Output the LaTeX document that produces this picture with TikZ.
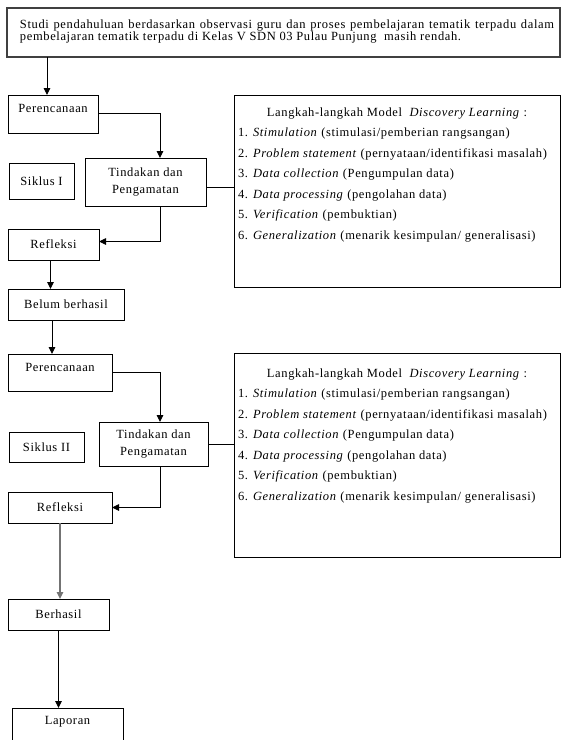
\documentclass[tikz,border=0pt]{standalone}
\usepackage{fontspec}
\setmainfont{Liberation Serif}[LetterSpace=5]
\usetikzlibrary{arrows.meta,positioning}
\newcommand{\dl}{\textit{Discovery Learning}}
% box with the steps of the model, text set from the top
\newcommand{\langkah}[2]{%
  \begin{minipage}[t][#1][t]{326pt}
  \fontsize{12.5}{20.5}\selectfont\parindent=0pt
  \centering\rule{0pt}{#2}Langkah-langkah Model\ \ \dl{} :\par
  \raggedright\leftskip=4pt
  1. \textit{Stimulation} (stimulasi/pemberian rangsangan)\par
  2. \textit{Problem statement} (pernyataan/identifikasi masalah)\par
  3. \textit{Data collection} (Pengumpulan data)\par
  4. \textit{Data processing} (pengolahan data)\par
  5. \textit{Verification} (pembuktian)\par
  6. \textit{Generalization} (menarik kesimpulan/ generalisasi)\par
  \end{minipage}}

\begin{document}
\begin{tikzpicture}[
  x=1pt, y=1pt,
  box/.style={draw, line width=0.9pt, align=center, inner xsep=2pt, inner ysep=0pt,
    outer sep=0pt, font=\fontsize{12.5}{16.5}\selectfont},
  arr/.style={-{Triangle[length=7pt, width=6.5pt]}, line width=0.9pt},
  link/.style={line width=0.9pt}
]
\useasboundingbox (0,0) rectangle (562,-740);

\node[box, anchor=north west, inner xsep=0pt, draw=black!75, line width=1.3pt] (studi) at (7,-8) {%
  \begin{minipage}[t][49pt][t]{553pt}
  \fontsize{12.5}{12}\selectfont
  \leftskip=13pt\parindent=0pt
  \rule{0pt}{20pt}\makebox[534pt][s]{Studi pendahuluan berdasarkan observasi guru dan proses pembelajaran tematik terpadu dalam}\\
  pembelajaran tematik terpadu di Kelas V SDN 03 Pulau Punjung\ \ masih rendah.
  \end{minipage}};

% siklus I
\node[box, below=38pt of studi.south west, anchor=north west, xshift=1pt,
  minimum width=90pt, text height=17.5pt, text depth=20.5pt] (renc1) {Perencanaan};
\node[box, below=30pt of renc1.south west, anchor=north west, xshift=1pt,
  minimum width=65pt, minimum height=36pt] (sik1) {Siklus I};
\node[box, below=25pt of renc1.south east, anchor=north west, xshift=-13pt,
  minimum width=121pt, minimum height=48pt] (tind1) {Tindakan dan\\Pengamatan};
\node[box, below=30pt of sik1.south west, anchor=north west, xshift=-1pt,
  minimum width=91pt, minimum height=31pt] (refl1) {Refleksi};
\node[box, below=29pt of refl1.south west, anchor=north west,
  minimum width=116pt, minimum height=31pt] (belum) {Belum berhasil};
\node[box, right=136pt of renc1.north east, anchor=north west, inner xsep=0pt] (lang1) {\langkah{192pt}{21pt}};

% siklus II
\node[box, below=34pt of belum.south west, anchor=north west,
  minimum width=104pt, text height=17.5pt, text depth=19.5pt] (renc2) {Perencanaan};
\node[box, below=41pt of renc2.south west, anchor=north west, xshift=1pt,
  minimum width=75pt, minimum height=30pt] (sik2) {Siklus II};
\node[box, below=31pt of renc2.south east, anchor=north west, xshift=-13pt,
  minimum width=109pt, minimum height=44pt] (tind2) {Tindakan dan\\Pengamatan};
\node[box, below=30pt of sik2.south west, anchor=north west, xshift=-1pt,
  minimum width=104pt, minimum height=31pt] (refl2) {Refleksi};
\node[box, right=122pt of renc2.north east, anchor=north west, yshift=1pt, inner xsep=0pt] (lang2) {\langkah{204pt}{24pt}};

\node[box, below=76pt of refl2.south west, anchor=north west,
  minimum width=101pt, minimum height=31pt] (berhasil) {Berhasil};
\node[box, below=78pt of berhasil.south west, anchor=north west, xshift=4pt,
  minimum width=111pt, text height=16.5pt, text depth=30pt] (lapor) {Laporan};

\draw[arr] ([xshift=-6pt]renc1.north |- studi.south) -- ([xshift=-6pt]renc1.north);
\draw[arr] ([yshift=1pt]renc1.east) -| ([xshift=14.5pt]tind1.north);
\draw[link] ([yshift=-5pt]tind1.east) -- ([yshift=-5pt]tind1.east -| lang1.west);
\draw[arr] ([xshift=14.5pt]tind1.south) |- ([yshift=3pt]refl1.east);
\draw[arr] ([xshift=-3pt]refl1.south) -- ([xshift=-3pt]refl1.south |- belum.north);
\draw[arr] ([xshift=-8pt]renc2.north |- belum.south) -- ([xshift=-8pt]renc2.north);
\draw[arr] (renc2.east) -| ([xshift=6.5pt]tind2.north);
\draw[link] (tind2.east) -- (tind2.east -| lang2.west);
\draw[arr] ([xshift=6.5pt]tind2.south) |- (refl2.east);
\draw[arr, draw=black!55, line width=1.3pt] (refl2.south) -- (refl2.south |- berhasil.north);
\draw[arr] (berhasil.south) -- (berhasil.south |- lapor.north);
\end{tikzpicture}
\end{document}
